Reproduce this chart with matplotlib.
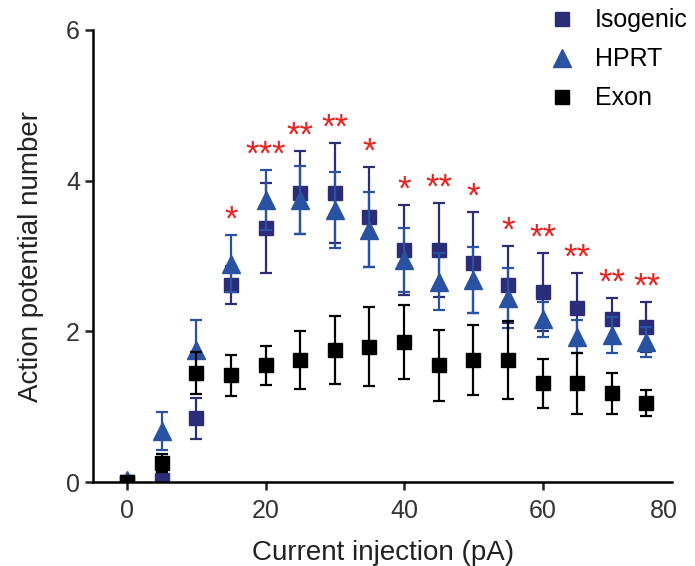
import matplotlib
matplotlib.use('Agg')
import matplotlib.pyplot as plt
import numpy as np

plt.rcParams['font.family'] = ['Liberation Sans', 'DejaVu Sans']

current = [0, 5, 10, 15, 20, 25, 30, 35, 40, 45, 50, 55, 60, 65, 70, 75]

iso_mean = [0.0, 0.03, 0.85, 2.62, 3.37, 3.84, 3.84, 3.52, 3.08, 3.08, 2.91, 2.62, 2.52, 2.31, 2.16, 2.06]
iso_err = [0.0, 0.05, 0.27, 0.25, 0.60, 0.55, 0.66, 0.66, 0.60, 0.62, 0.67, 0.51, 0.52, 0.46, 0.28, 0.33]

hprt_mean = [0.03, 0.68, 1.75, 2.90, 3.74, 3.74, 3.61, 3.35, 2.95, 2.66, 2.68, 2.44, 2.16, 1.93, 1.95, 1.86]
hprt_err = [0.02, 0.25, 0.40, 0.38, 0.40, 0.45, 0.50, 0.50, 0.42, 0.38, 0.44, 0.40, 0.23, 0.22, 0.24, 0.20]

exon_mean = [0.0, 0.25, 1.45, 1.42, 1.55, 1.62, 1.75, 1.80, 1.86, 1.55, 1.62, 1.62, 1.31, 1.31, 1.18, 1.05]
exon_err = [0.0, 0.12, 0.28, 0.27, 0.26, 0.38, 0.45, 0.52, 0.49, 0.47, 0.46, 0.52, 0.33, 0.40, 0.27, 0.17]

stars = ['', '', '', '*', '***', '**', '**', '*', '*', '**', '*', '*', '**', '**', '**', '**']

fig = plt.figure(figsize=(6.95, 5.66), dpi=100)
ax = fig.add_axes([0.134, 0.148, 0.833, 0.799])

c_iso = '#2b2d78'
c_hprt = '#2a52a3'
c_exon = '#000000'

kw = dict(linestyle='none', capsize=4.5, elinewidth=1.6, capthick=1.6)
ax.errorbar(current, iso_mean, yerr=iso_err, marker='s', ms=10.5, color=c_iso, label='Isogenic', zorder=2, **kw)
ax.errorbar(current, hprt_mean, yerr=hprt_err, marker='^', ms=12.5, color=c_hprt, label='HPRT', zorder=3, **kw)
ax.errorbar(current, exon_mean, yerr=exon_err, marker='s', ms=10.5, color=c_exon, label='Exon', zorder=4, **kw)

# significance stars above the higher blue error bar
for x, s, m1, e1, m2, e2 in zip(current, stars, iso_mean, iso_err, hprt_mean, hprt_err):
    if s:
        top = max(m1 + e1, m2 + e2)
        ax.text(x, top - 0.02, s, color='#e8231f', fontsize=25, ha='center', va='bottom')

ax.set_xlim(-4.9, 78.7)
ax.set_ylim(0, 6)
ax.set_yticks([0, 2, 4, 6])
ax.set_xticks([0, 20, 40, 60, 77.5])
ax.set_xticklabels(['0', '20', '40', '60', '80'])
ax.xaxis.get_major_ticks()[-1].tick1line.set_visible(False)
for sp in ['top', 'right']:
    ax.spines[sp].set_visible(False)
for sp in ['left', 'bottom']:
    ax.spines[sp].set_linewidth(1.8)
ax.tick_params(axis='both', labelsize=18, width=1.8, length=6, colors='#222222')
ax.tick_params(axis='x', pad=6)
ax.tick_params(axis='both', labelcolor='#333333')
ax.set_xlabel('Current injection (pA)', fontsize=20, color='#222222', labelpad=12)
ax.set_ylabel('Action potential number', fontsize=20, color='#222222', labelpad=16)

handles, labels = ax.get_legend_handles_labels()
handles = [h[0] for h in handles]
leg = fig.legend(handles, labels, loc='upper right', bbox_to_anchor=(1.022, 1.025), frameon=False,
                 fontsize=18, handlelength=1.0, handletextpad=0.8, labelspacing=0.6)

fig.savefig('out.png', dpi=100)
